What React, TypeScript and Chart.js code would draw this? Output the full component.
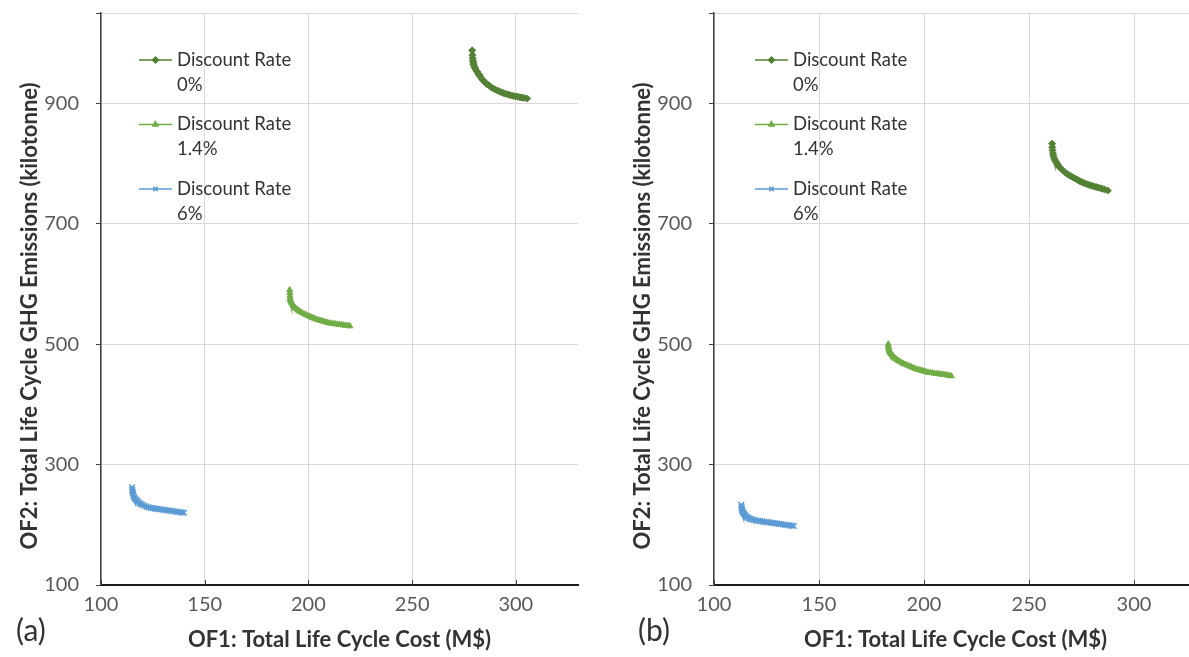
import React, { useEffect, useRef } from "react";
import { Chart, registerables } from "chart.js";
import { drawPoint } from "chart.js/helpers";

Chart.register(...registerables);

// ---- axis ticks ----
const xTicks = [100, 150, 200, 250, 300];
const yTicks = [100, 300, 500, 700, 900];
const xMin = 100;
const xMax = 330;
const yMin = 100;
const yMax = 1050;

// ---- series meta ----
const legendPrefix = "Discount Rate";
const seriesRates = ["0%", "1.4%", "6%"];
const seriesColors = ["#548235", "#70AD47", "#5B9BD5"];
const seriesMarkers = ["rectRot", "triangle", "crossRot"];

// ---- panel (a) ----
const a0X = [279, 279.1, 279.2, 279.3, 279.5, 279.6, 279.9, 280.2, 280.6, 281, 281.5, 282, 282.5, 283, 283.7, 284.5, 285.2, 286, 287, 288, 289, 290, 291, 292, 293, 294, 295, 296, 297, 298, 299, 300, 301, 302, 303, 304, 305.5];
const a0Y = [988, 980, 975, 971, 968, 965, 962, 959, 957, 954, 952, 949, 947, 944, 940, 937, 935, 932, 930, 927, 925, 923, 921.5, 920, 918.5, 917, 916, 915, 914, 913, 912, 911.5, 911, 910, 909.5, 909, 908];
const a14X = [191, 191.05, 191.1, 191.2, 191.4, 191.7, 192, 192.5, 193, 193.7, 194.5, 195.2, 196, 197, 198, 199, 200, 201, 202, 203, 204, 205, 206, 207, 208, 209, 210, 211, 212, 213, 214, 215, 216, 217, 218, 219, 220];
const a14Y = [590, 585, 580, 576, 573, 570, 568, 565, 563, 560, 558, 556, 554, 552, 550, 548.5, 547, 545.5, 544, 542.5, 541, 540, 539, 538, 537, 536, 535, 534.5, 534, 533.5, 533, 532.5, 532, 531.5, 531, 530.5, 530];
const a6X = [115, 115.1, 115.2, 115.4, 115.6, 115.9, 116.3, 116.8, 117.3, 117.9, 118.5, 119.2, 120, 121, 122, 123, 124, 125, 126, 127, 128, 129, 130, 131, 132, 133, 134, 135, 136, 137, 138, 139, 140];
const a6Y = [262, 258, 255, 252, 249, 246, 244, 242, 240, 238, 236, 234.5, 233, 231.5, 230, 229, 228, 227.5, 227, 226.5, 226, 225.5, 225, 224.5, 224, 223.5, 223, 222.5, 222, 221.5, 221, 220.5, 220];

// ---- panel (b) ----
const b0X = [261, 261.1, 261.2, 261.4, 261.6, 261.9, 262.3, 262.8, 263.3, 263.9, 264.5, 265.2, 266, 267, 268, 269, 270, 271, 272, 273, 274, 275, 276, 277, 278, 279, 280, 281, 282, 283, 284, 285, 286, 287.5];
const b0Y = [833, 827, 822, 817, 813, 809, 806, 803, 800, 797, 794, 791.5, 789, 786, 783, 781, 779, 777, 775, 773, 771, 769.5, 768, 766.5, 765, 764, 763, 762, 761, 760, 759, 758, 757, 755];
const b14X = [183, 183.1, 183.2, 183.4, 183.6, 183.9, 184.3, 184.8, 185.3, 185.9, 186.5, 187.2, 188, 189, 190, 191, 192, 193, 194, 195, 196, 197, 198, 199, 200, 201, 202, 203, 204, 205, 206, 207, 208, 209, 210, 211, 212, 213];
const b14Y = [500, 496, 493, 490, 488, 486, 484, 482, 480, 478, 476, 474, 472, 470, 468, 466.5, 465, 463.5, 462, 460.5, 459, 458, 457, 456, 455, 454, 453, 452.5, 452, 451.5, 451, 450.5, 450, 449.5, 449, 448.5, 448, 447];
const b6X = [113, 113.1, 113.2, 113.4, 113.6, 113.9, 114.3, 114.8, 115.3, 115.9, 116.5, 117.2, 118, 119, 120, 121, 122, 123, 124, 125, 126, 127, 128, 129, 130, 131, 132, 133, 134, 135, 136, 137, 138];
const b6Y = [233, 230, 227, 224.5, 222, 220, 218, 216, 214, 212.5, 211, 210, 209, 208, 207, 206.5, 206, 205.5, 205, 204.5, 204, 203.5, 203, 202.5, 202, 201.5, 201, 200.5, 200, 199.5, 199, 198.5, 198];

const xTitle = "OF1: Total Life Cycle Cost (M$)";
const yTitle = "OF2: Total Life Cycle GHG Emissions (kilotonne)";

const FONT = "Lato, 'Open Sans', sans-serif";

const overlayPlugin = {
  id: "overlay",
  afterDraw(chart: any, _args: any, opts: any) {
    const { ctx, chartArea } = chart;
    ctx.save();
    const x0 = opts.legendX;
    chart.data.datasets.forEach((ds: any, i: number) => {
      const y = chartArea.top + 47 + i * 64.5;
      ctx.strokeStyle = ds.borderColor;
      ctx.fillStyle = ds.backgroundColor;
      ctx.lineWidth = 1.5;
      ctx.beginPath();
      ctx.moveTo(x0, y);
      ctx.lineTo(x0 + 33, y);
      ctx.stroke();
      drawPoint(
        ctx,
        { pointStyle: ds.pointStyle, radius: 3, borderWidth: ds.pointBorderWidth, rotation: 0 } as any,
        x0 + 16.5,
        y
      );
      ctx.fillStyle = "#333333";
      ctx.font = `18.5px ${FONT}`;
      ctx.textBaseline = "middle";
      ctx.textAlign = "left";
      ctx.fillText(legendPrefix, x0 + 38, y);
      ctx.fillText(seriesRates[i], x0 + 38, y + 25);
    });
    const xs = chart.scales.x;
    ctx.strokeStyle = "#404040";
    ctx.lineWidth = 1;
    xTicks.forEach((v) => {
      const px = Math.round(xs.getPixelForValue(v)) + 0.5;
      ctx.beginPath();
      ctx.moveTo(px, chartArea.bottom);
      ctx.lineTo(px, chartArea.bottom - 5);
      ctx.stroke();
    });
    // y-axis title
    ctx.translate(opts.yTitleX, opts.yTitleY);
    ctx.rotate(-Math.PI / 2);
    ctx.fillStyle = "#333333";
    ctx.font = `bold 22px ${FONT}`;
    ctx.textAlign = "center";
    ctx.textBaseline = "middle";
    ctx.fillText(yTitle, 0, 0);
    ctx.restore();
  },
};

type Series = { x: number[]; y: number[] };

function Panel(props: {
  left: number;
  width: number;
  padRight: number;
  legendX: number;
  tag: string;
  tagLeft: number;
  series: Series[];
}) {
  const ref = useRef<HTMLCanvasElement>(null);
  useEffect(() => {
    const canvas = ref.current!;
    const chart = new Chart(canvas, {
      type: "scatter",
      data: {
        datasets: props.series.map((s, i) => ({
          label: `${legendPrefix} ${seriesRates[i]}`,
          data: s.x.map((x, j) => ({ x, y: s.y[j] })),
          showLine: true,
          borderColor: seriesColors[i],
          backgroundColor: seriesColors[i],
          borderWidth: 3.5,
          pointStyle: seriesMarkers[i] as any,
          pointRadius: i === 2 ? 4 : 3.5,
          pointBorderWidth: i === 2 ? 1.5 : 1,
        })),
      },
      options: {
        responsive: false,
        animation: false,
        events: [],
        layout: { padding: { top: 13, right: props.padRight, left: 0, bottom: 0 } },
        plugins: {
          legend: { display: false },
          tooltip: { enabled: false },
          overlay: { legendX: props.legendX, yTitleX: 30, yTitleY: 316 },
        } as any,
        scales: {
          x: {
            type: "linear",
            min: xMin,
            max: xMax,
            afterBuildTicks: (scale: any) => {
              scale.ticks = [...xTicks, xMax].map((v) => ({ value: v }));
            },
            afterFit: (scale: any) => {
              scale.height = 72;
              scale.paddingLeft = 0;
              scale.paddingRight = 0;
            },
            ticks: {
              padding: 8,
              color: "#595959",
              font: { family: FONT, size: 20 },
              callback: (v: any) => (xTicks.includes(Number(v)) ? String(v) : ""),
            },
            grid: {
              color: (c: any) => (c.tick && c.tick.value === xMax ? "rgba(0,0,0,0)" : "#d9d9d9"),
              drawTicks: false,
            },
            border: { color: "#1a1a1a", width: 2 },
            title: {
              display: true,
              text: xTitle,
              color: "#333333",
              font: { family: FONT, size: 22, weight: "bold" },
              padding: { top: 0, bottom: 4 },
            },
          },
          y: {
            type: "linear",
            min: yMin,
            max: yMax,
            afterBuildTicks: (scale: any) => {
              scale.ticks = [...yTicks, yMax].map((v) => ({ value: v }));
            },
            afterFit: (scale: any) => {
              scale.width = 101;
              scale.paddingTop = 0;
              scale.paddingBottom = 0;
            },
            ticks: {
              padding: 17,
              color: "#595959",
              font: { family: FONT, size: 20 },
              callback: (v: any) => (yTicks.includes(Number(v)) ? String(v) : ""),
            },
            grid: {
              color: "#d9d9d9",
              tickLength: 5,
              tickColor: "#404040",
            },
            border: { color: "#404040", width: 1.5 },
            title: { display: false },
          },
        },
      },
      plugins: [overlayPlugin],
    });
    return () => chart.destroy();
  }, []);
  return (
    <>
      <canvas
        ref={ref}
        width={props.width}
        height={657}
        style={{ position: "absolute", left: props.left, top: 0, width: props.width, height: 657 }}
      />
      <div
        style={{
          position: "absolute",
          left: props.tagLeft,
          top: 610,
          fontFamily: FONT,
          fontSize: 30,
          color: "#333333",
          lineHeight: "38px",
        }}
      >
        {props.tag}
      </div>
    </>
  );
}

export default function App() {
  return (
    <div
      style={{
        position: "fixed",
        left: 0,
        top: 0,
        width: 1189,
        height: 657,
        overflow: "hidden",
        background: "#ffffff",
      }}
    >
      <Panel
        left={0}
        width={595}
        padRight={17}
        legendX={139}
        tag="(a)"
        tagLeft={16}
        series={[
          { x: a0X, y: a0Y },
          { x: a14X, y: a14Y },
          { x: a6X, y: a6Y },
        ]}
      />
      <Panel
        left={613}
        width={600}
        padRight={16}
        legendX={142}
        tag="(b)"
        tagLeft={638}
        series={[
          { x: b0X, y: b0Y },
          { x: b14X, y: b14Y },
          { x: b6X, y: b6Y },
        ]}
      />
    </div>
  );
}
